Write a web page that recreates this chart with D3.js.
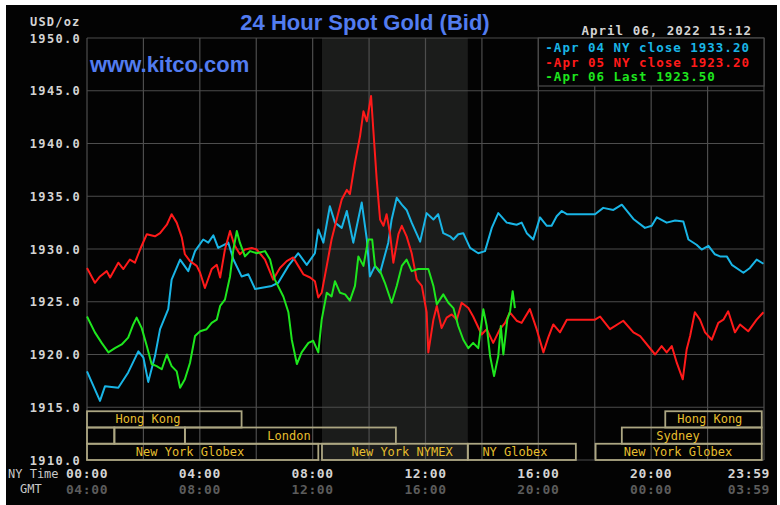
<!DOCTYPE html>
<html>
<head>
<meta charset="utf-8">
<script src="https://cdn.jsdelivr.net/npm/d3@7"></script>
<style>
body { margin: 0; background: #fff; }
text { font-family: "DejaVu Sans Mono", monospace; }
</style>
</head>
<body>
<svg id="chart"></svg>
<script>
// values: [NY hour, USD/oz]
let apr04 = [[0,1918.4],[0.46,1915.6],[0.64,1917.0],[1.11,1916.85],[1.46,1918.3],[1.82,1920.3],[2.0,1919.7],
  [2.17,1917.4],[2.41,1919.85],[2.59,1922.4],[2.88,1924.3],[3.0,1927.1],[3.3,1929.0],[3.59,1927.9],[3.83,1929.8],
  [4.12,1930.9],[4.3,1930.6],[4.48,1931.3],[4.65,1930.1],[5.01,1930.6],[5.19,1929.0],[5.48,1927.4],[5.72,1927.6],
  [5.96,1926.2],[6.55,1926.5],[6.78,1926.8],[7.14,1928.4],[7.49,1929.6],[7.79,1928.5],[8.08,1929.6],[8.2,1931.85],
  [8.38,1930.6],[8.61,1934.05],[8.79,1932.5],[9.03,1932.0],[9.21,1933.6],[9.44,1930.6],[9.74,1934.4],[9.92,1930.9],
  [10.03,1927.4],[10.21,1928.4],[10.39,1927.75],[10.68,1930.6],[10.8,1932.8],[10.98,1934.85],[11.16,1934.2],
  [11.33,1933.7],[11.51,1932.5],[11.81,1930.7],[12.04,1933.4],[12.28,1932.8],[12.45,1933.3],[12.63,1931.5],
  [12.87,1931.2],[12.99,1930.9],[13.16,1931.4],[13.34,1931.5],[13.58,1930.1],[13.87,1929.6],[14.11,1929.8],
  [14.35,1932.0],[14.58,1933.4],[14.88,1932.5],[15.23,1932.3],[15.41,1932.5],[15.59,1931.5],[15.82,1930.9],
  [16.06,1933.0],[16.3,1932.2],[16.47,1932.2],[16.65,1933.1],[16.83,1933.6],[17.01,1933.3],[18.01,1933.3],
  [18.3,1933.9],[18.66,1933.7],[18.96,1934.2],[19.37,1932.85],[19.78,1932.0],[20.02,1932.2],[20.2,1933.0],
  [20.55,1932.5],[20.85,1932.7],[21.14,1932.6],[21.32,1930.9],[21.61,1930.4],[21.79,1929.95],[22.03,1930.3],
  [22.26,1929.5],[22.44,1929.3],[22.68,1929.3],[22.86,1928.5],[23.27,1927.75],[23.5,1928.2],[23.74,1929.0],
  [23.98,1928.6]];

let apr05 = [[0,1928.2],[0.28,1926.8],[0.46,1927.4],[0.7,1927.9],[0.82,1927.3],[1.11,1928.7],[1.29,1928.1],
  [1.52,1929.0],[1.7,1928.7],[1.88,1929.95],[2.12,1931.4],[2.41,1931.2],[2.59,1931.5],[2.83,1932.3],[3.0,1933.3],
  [3.18,1932.5],[3.36,1931.1],[3.47,1929.5],[3.65,1928.85],[3.89,1928.4],[4.01,1927.75],[4.18,1926.3],[4.42,1928.1],
  [4.6,1928.5],[4.72,1927.3],[4.89,1929.95],[5.07,1931.7],[5.22,1930.4],[5.42,1929.5],[5.6,1929.95],[5.84,1930.1],
  [6.02,1929.95],[6.31,1929.0],[6.6,1927.1],[6.84,1928.2],[7.08,1928.85],[7.31,1929.2],[7.49,1928.4],[7.67,1927.6],
  [7.91,1927.3],[8.08,1926.95],[8.2,1925.4],[8.32,1925.85],[8.5,1928.4],[8.67,1930.9],[8.85,1932.8],[9.03,1934.7],
  [9.21,1935.6],[9.32,1935.2],[9.5,1938.2],[9.68,1940.7],[9.8,1943.05],[9.92,1942.1],[10.07,1944.5],[10.15,1941.3],
  [10.27,1936.6],[10.39,1932.8],[10.51,1932.2],[10.62,1933.3],[10.74,1931.5],[10.86,1928.7],[11.04,1931.4],
  [11.16,1932.2],[11.33,1931.2],[11.51,1929.6],[11.69,1927.1],[11.87,1926.5],[12.04,1924.0],[12.1,1920.2],
  [12.28,1923.3],[12.4,1924.6],[12.57,1922.5],[12.75,1923.5],[12.93,1923.8],[13.11,1923.3],[13.28,1924.9],
  [13.52,1924.4],[13.69,1923.6],[13.99,1921.9],[14.17,1922.4],[14.4,1921.1],[14.64,1922.4],[14.82,1923.0],
  [14.99,1924.0],[15.23,1923.2],[15.41,1923.0],[15.7,1924.3],[15.94,1922.4],[16.18,1920.2],[16.35,1921.6],
  [16.53,1922.85],[16.77,1922.1],[17.01,1923.3],[18.01,1923.3],[18.19,1923.6],[18.54,1922.4],[19.01,1923.2],
  [19.37,1922.1],[19.61,1921.75],[20.14,1920.0],[20.37,1920.8],[20.55,1920.2],[20.73,1920.8],[20.91,1919.2],
  [21.12,1917.65],[21.26,1920.5],[21.38,1921.75],[21.55,1924.0],[21.73,1923.3],[21.91,1922.1],[22.15,1921.4],
  [22.38,1923.0],[22.56,1923.3],[22.73,1924.1],[22.97,1922.1],[23.15,1922.85],[23.44,1922.2],[23.74,1923.3],
  [23.98,1924.0]];

let apr06 = [[0,1923.6],[0.28,1922.1],[0.52,1921.1],[0.76,1920.2],[0.99,1920.6],[1.23,1920.95],[1.46,1921.6],
  [1.64,1922.85],[1.76,1923.5],[1.94,1922.5],[2.12,1920.8],[2.29,1919.1],[2.47,1918.9],[2.65,1918.6],[2.83,1920.0],
  [3.0,1918.9],[3.18,1918.4],[3.3,1916.85],[3.47,1917.65],[3.65,1919.2],[3.83,1921.75],[4.01,1922.2],[4.24,1922.4],
  [4.42,1923.0],[4.6,1923.3],[4.72,1924.6],[4.89,1925.2],[5.07,1927.4],[5.19,1929.95],[5.31,1931.7],[5.42,1930.6],
  [5.6,1929.3],[5.78,1929.8],[6.02,1929.6],[6.31,1929.8],[6.49,1929.0],[6.66,1927.1],[6.96,1925.5],[7.14,1924.0],
  [7.26,1921.4],[7.44,1919.1],[7.61,1920.2],[7.85,1921.1],[8.02,1921.3],[8.2,1920.2],[8.32,1923.3],[8.5,1925.85],
  [8.67,1925.5],[8.79,1926.95],[8.97,1925.85],[9.15,1925.7],[9.32,1925.1],[9.5,1926.5],[9.62,1929.3],[9.8,1928.4],
  [9.97,1930.9],[10.11,1930.9],[10.21,1928.4],[10.39,1927.9],[10.56,1926.8],[10.8,1924.9],[10.98,1926.5],
  [11.16,1928.4],[11.33,1929.0],[11.51,1927.9],[11.74,1928.1],[12.1,1928.1],[12.28,1926.5],[12.4,1924.75],
  [12.63,1925.7],[12.81,1924.9],[12.99,1924.4],[13.16,1922.7],[13.34,1921.4],[13.52,1920.6],[13.69,1921.1],
  [13.87,1920.6],[14.05,1924.3],[14.17,1922.7],[14.29,1919.85],[14.43,1917.95],[14.58,1919.85],[14.67,1922.7],
  [14.76,1920.0],[14.9,1923.3],[15.0,1924.1],[15.09,1926.0],[15.17,1924.4]];

let seriesColors = ["#19b5e6", "#ff1a1a", "#1ee61e"];
let legendLabels = ["-Apr 04 NY close 1933.20", "-Apr 05 NY close 1923.20", "-Apr 06 Last 1923.50"];

let priceTicks = [1910, 1915, 1920, 1925, 1930, 1935, 1940, 1945, 1950];
let timeTicks = [0, 4, 8, 12, 16, 20, 23.98];
let nyLabels = ["00:00", "04:00", "08:00", "12:00", "16:00", "20:00", "23:59"];
let gmtLabels = ["04:00", "08:00", "12:00", "16:00", "20:00", "00:00", "03:59"];

// trading sessions: row, start hour, end hour, label, label hour
let sessions = [
  [0, 0, 5.48, "Hong Kong", 2.16],
  [0, 20.5, 23.92, "Hong Kong", 22.08],
  [1, 0, 0.97, "", 0],
  [1, 0.97, 3.47, "", 0],
  [1, 3.47, 10.95, "London", 7.16],
  [1, 18.96, 23.92, "Sydney", 20.95],
  [2, 0, 8.2, "New York Globex", 3.65],
  [2, 8.33, 13.5, "New York NYMEX", 11.17],
  [2, 13.5, 17.33, "NY Globex", 15.17],
  [2, 18.03, 23.92, "New York Globex", 20.95]
];
let nymexHours = [8.33, 13.5];

let svg = d3.select("#chart").attr("width", 780).attr("height", 505);

svg.append("rect")
    .attr("x", 6).attr("y", 5)
    .attr("width", 771).attr("height", 500)
    .attr("fill", "#030303");

let x = d3.scaleLinear().domain([0, 24]).range([87, 764]);
let y = d3.scaleLinear().domain([1910, 1950]).range([460, 38]);

// NYMEX open shading
svg.append("rect")
    .attr("x", x(nymexHours[0]))
    .attr("y", y(1950))
    .attr("width", x(nymexHours[1]) - x(nymexHours[0]))
    .attr("height", y(1910) - y(1950))
    .attr("fill", "#1b1c1b");

// grid
let grid = svg.append("g").attr("stroke", "#4d4d4d").attr("stroke-width", 1.2);
grid.selectAll("line.v").data(d3.range(0, 25, 2)).enter().append("line")
    .attr("x1", d => x(d)).attr("x2", d => x(d))
    .attr("y1", y(1950)).attr("y2", y(1910));
grid.selectAll("line.h").data(priceTicks).enter().append("line")
    .attr("x1", x(0)).attr("x2", x(24))
    .attr("y1", d => y(d)).attr("y2", d => y(d));

// session boxes
let rowTop = y(1915) + 4;
let rowH = (y(1910) - rowTop) / 3;
svg.selectAll("rect.sess").data(sessions).enter().append("rect")
    .attr("x", d => x(d[1]))
    .attr("y", d => rowTop + d[0] * rowH)
    .attr("width", d => x(d[2]) - x(d[1]))
    .attr("height", rowH)
    .attr("fill", "none")
    .attr("stroke", "#aca682")
    .attr("stroke-width", 1.8);
svg.selectAll("text.sess").data(sessions.filter(d => d[3] !== "")).enter().append("text")
    .attr("x", d => x(d[4]))
    .attr("y", d => rowTop + d[0] * rowH + 12)
    .attr("text-anchor", "middle")
    .attr("font-size", 12)
    .attr("fill", "#e6be2e")
    .text(d => d[3]);

// price lines
let line = d3.line()
    .x(d => x(d[0]))
    .y(d => y(d[1]));
[apr04, apr05, apr06].forEach(function (s, i) {
    svg.append("path")
        .datum(s)
        .attr("d", line)
        .attr("fill", "none")
        .attr("stroke", seriesColors[i])
        .attr("stroke-width", 2)
        .attr("stroke-linejoin", "round");
});

// legend
svg.append("rect")
    .attr("x", x(16)).attr("y", y(1950))
    .attr("width", x(24) - x(16)).attr("height", 48)
    .attr("fill", "#030303")
    .attr("stroke", "#4d4d4d").attr("stroke-width", 1.2);
svg.selectAll("text.leg").data(legendLabels).enter().append("text")
    .attr("x", x(16) + 7)
    .attr("y", (d, i) => 52 + i * 14.5)
    .attr("font-size", 12.5)
    .attr("font-weight", "bold")
    .attr("letter-spacing", 1)
    .attr("fill", (d, i) => seriesColors[i])
    .text(d => d);

// price axis labels
svg.selectAll("text.ytick").data(priceTicks).enter().append("text")
    .attr("x", 81)
    .attr("y", d => y(d) + 4.5)
    .attr("text-anchor", "end")
    .attr("font-size", 12)
    .attr("font-weight", "bold")
    .attr("letter-spacing", 1.3)
    .attr("fill", "#d4d4d4")
    .text(d => d3.format(".1f")(d));

svg.append("text")
    .attr("x", 30).attr("y", 26)
    .attr("font-size", 12).attr("font-weight", "bold")
    .attr("letter-spacing", 1.2)
    .attr("fill", "#d4d4d4")
    .text("USD/oz");

// time axis labels (last one is pulled in so it stays inside the frame)
let lastTick = timeTicks.length - 1;
function timeX(d, i) { return i === lastTick ? 770 : x(d); }
function timeAnchor(d, i) { return i === lastTick ? "end" : "middle"; }
svg.selectAll("text.ny").data(timeTicks).enter().append("text")
    .attr("x", timeX)
    .attr("y", 478)
    .attr("text-anchor", timeAnchor)
    .attr("font-size", 13).attr("font-weight", "bold")
    .attr("letter-spacing", 0.6)
    .attr("fill", "#d4d4d4")
    .text((d, i) => nyLabels[i]);
svg.selectAll("text.gmt").data(timeTicks).enter().append("text")
    .attr("x", timeX)
    .attr("y", 494)
    .attr("text-anchor", timeAnchor)
    .attr("font-size", 13).attr("font-weight", "bold")
    .attr("letter-spacing", 0.6)
    .attr("fill", "#5c5c5c")
    .text((d, i) => gmtLabels[i]);
svg.append("text")
    .attr("x", 8).attr("y", 478)
    .attr("font-size", 12)
    .attr("fill", "#c8c8c8")
    .text("NY Time");
svg.append("text")
    .attr("x", 20).attr("y", 493)
    .attr("font-size", 12)
    .attr("fill", "#c8c8c8")
    .text("GMT");

// titles
svg.append("text")
    .attr("x", 365).attr("y", 30)
    .attr("text-anchor", "middle")
    .style("font-family", "'Liberation Sans', Arial, sans-serif")
    .attr("font-size", 22).attr("font-weight", "bold")
    .attr("fill", "#527cf0")
    .text("24 Hour Spot Gold (Bid)");
svg.append("text")
    .attr("x", 90).attr("y", 72)
    .style("font-family", "'Liberation Sans', Arial, sans-serif")
    .attr("font-size", 22).attr("font-weight", "bold")
    .attr("fill", "#527cf0")
    .text("www.kitco.com");
svg.append("text")
    .attr("x", 752).attr("y", 35)
    .attr("text-anchor", "end")
    .attr("font-size", 12.5).attr("font-weight", "bold")
    .attr("letter-spacing", 1)
    .attr("fill", "#d4d4d4")
    .text("April 06, 2022 15:12");
</script>
</body>
</html>
